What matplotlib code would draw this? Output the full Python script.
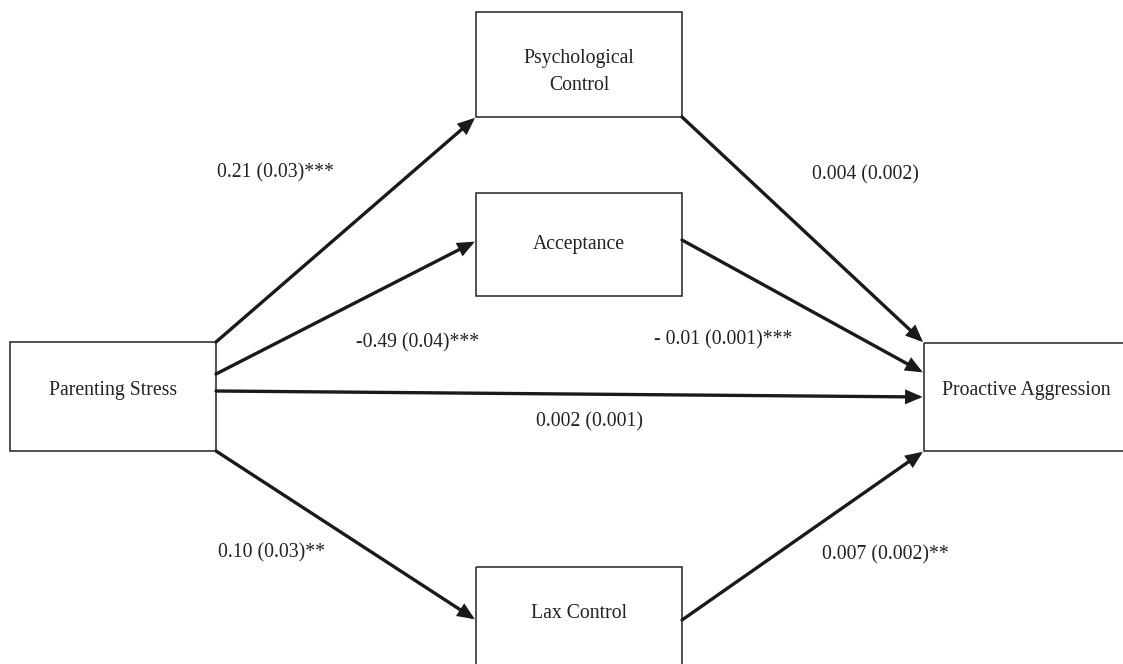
import matplotlib.pyplot as plt
from matplotlib.patches import Rectangle, FancyArrowPatch

plt.rcParams['font.family'] = ['Liberation Serif', 'DejaVu Serif']

# Boxes: label, left, top, right, bottom (pixel space, y down)
nodeNames = ["Parenting Stress", "Psychological\nControl", "Acceptance", "Lax Control", "Proactive Aggression"]
nodeBoxes = [(10, 342, 216, 451), (476, 12, 682, 117), (476, 193, 682, 296), (476, 567, 682, 700), (924, 343, 1130, 451)]
nodeTextPos = [(113, 391), (579, 72), (579, 244), (579, 614), (1026, 391)]

# Paths: start, end, coefficient label, label position
pathStarts = [(216, 342), (216, 374), (682, 117), (682, 240), (216, 391), (216, 451), (682, 620)]
pathEnds = [(476, 117), (476, 241), (924, 343), (924, 373), (924, 397), (476, 620), (924, 451)]
pathLabels = ["0.21 (0.03)***", "-0.49 (0.04)***", "0.004 (0.002)", "- 0.01 (0.001)***",
              "0.002 (0.001)", "0.10 (0.03)**", "0.007 (0.002)**"]
labelPos = [(275, 173), (418, 343), (865, 175), (723, 340), (590, 422), (271, 553), (885, 555)]

fig = plt.figure(figsize=(11.23, 6.64), dpi=100)
ax = fig.add_axes([0, 0, 1, 1])
ax.set_xlim(0, 1123)
ax.set_ylim(664, 0)
ax.axis("off")

for (l, t, r, b), name, (tx, ty) in zip(nodeBoxes, nodeNames, nodeTextPos):
    ax.add_patch(Rectangle((l, t), r - l, b - t, fill=False, edgecolor="#222222", linewidth=1.1))
    ax.text(tx, ty, name, ha="center", va="center", fontsize=14.2, color="#222222", linespacing=1.5)

for s, e in zip(pathStarts, pathEnds):
    ax.add_patch(FancyArrowPatch(s, e, arrowstyle="-|>,head_length=0.7,head_width=0.3",
                                 mutation_scale=12, linewidth=2.4, color="#1a1a1a",
                                 shrinkA=0, shrinkB=1, joinstyle="miter"))

for lab, (lx, ly) in zip(pathLabels, labelPos):
    ax.text(lx, ly, lab, ha="center", va="center", fontsize=14.2, color="#222222")

fig.savefig("out.png", dpi=100)
